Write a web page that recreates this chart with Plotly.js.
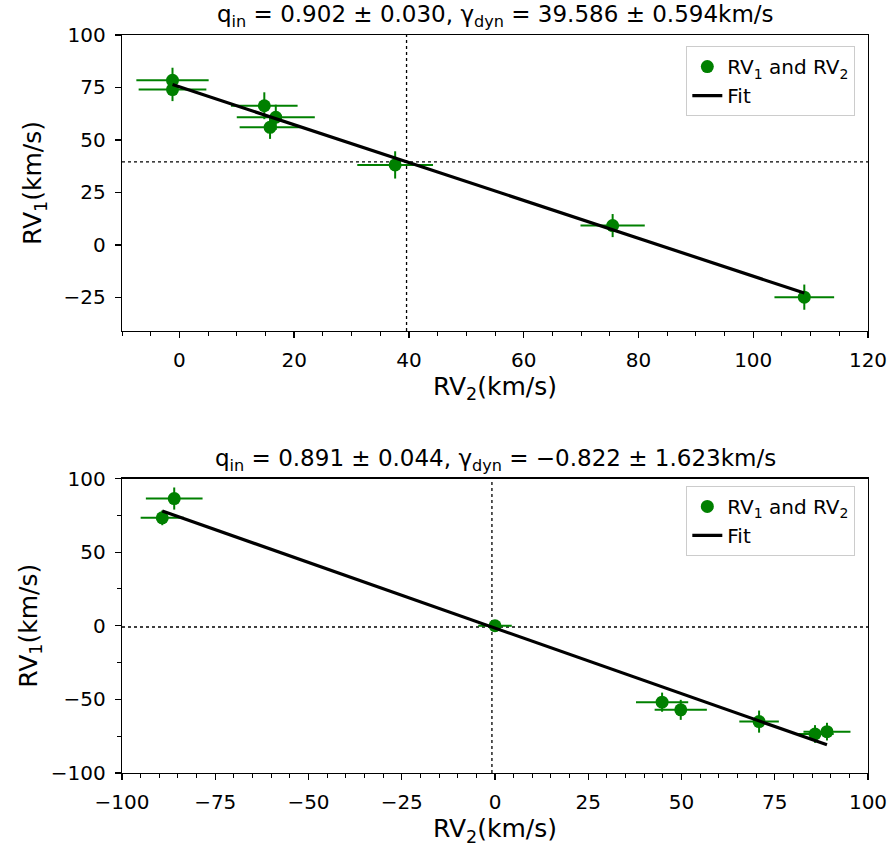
<!DOCTYPE html>
<html>
<head>
<meta charset="utf-8">
<script src="https://cdn.plot.ly/plotly-3.0.1.min.js"></script>
<style>
  html, body { margin: 0; padding: 0; background: #fff; }
  #chart { width: 888px; height: 850px; }
</style>
</head>
<body>
<div id="chart"></div>
<script>
// ---- Top panel data ----
const rv2Top = [-1.2, -1.2, 14.8, 16.8, 15.8, 37.6, 75.5, 108.9];
const rv1Top = [78.4, 74.0, 66.3, 60.8, 56.0, 38.1, 9.2, -24.9];
const rv2ErrTop = [6.3, 5.9, 5.8, 6.8, 5.3, 6.6, 5.6, 5.2];
const rv1ErrTop = [6.0, 5.5, 6.4, 6.0, 5.5, 6.5, 5.5, 6.0];
const qTop = 0.902, qErrTop = 0.030, gammaTop = 39.586, gammaErrTop = 0.594;

// ---- Bottom panel data ----
const rv2Bot = [-89.2, -86.0, 0.0, 44.8, 49.8, 70.8, 85.8, 89.0];
const rv1Bot = [73.3, 86.4, 0.0, -51.9, -57.1, -65.1, -73.5, -71.9];
const rv2ErrBot = [5.8, 7.6, 4.5, 7.0, 7.0, 5.3, 5.0, 6.3];
const rv1ErrBot = [5.0, 7.5, 3.0, 6.5, 6.8, 7.5, 6.0, 6.0];
const qBot = 0.891, qErrBot = 0.044, gammaBot = -0.822, gammaErrBot = 1.623;

const GREEN = '#008000';
const FONT = 'DejaVu Sans, sans-serif';

function fitLine(xs, q, gamma) {
  const x0 = Math.min(...xs), x1 = Math.max(...xs);
  return { x: [x0, x1], y: [gamma * (1 + q) - q * x0, gamma * (1 + q) - q * x1] };
}

function pointsTrace(x, y, ex, ey, xa, ya, leg) {
  return {
    type: 'scatter', mode: 'markers', x: x, y: y,
    xaxis: xa, yaxis: ya, legend: leg,
    name: 'RV<sub>1</sub> and RV<sub>2</sub>',
    marker: { color: GREEN, size: 13 },
    error_x: { type: 'data', array: ex, visible: true, color: GREEN, thickness: 2, width: 0 },
    error_y: { type: 'data', array: ey, visible: true, color: GREEN, thickness: 2, width: 0 }
  };
}

const fT = fitLine(rv2Top, qTop, gammaTop);
const fB = fitLine(rv2Bot, qBot, gammaBot);

const traces = [
  pointsTrace(rv2Top, rv1Top, rv2ErrTop, rv1ErrTop, 'x', 'y', 'legend'),
  { type: 'scatter', mode: 'lines', x: fT.x, y: fT.y, xaxis: 'x', yaxis: 'y', legend: 'legend',
    name: 'Fit', line: { color: '#000', width: 3.2 } },
  pointsTrace(rv2Bot, rv1Bot, rv2ErrBot, rv1ErrBot, 'x2', 'y2', 'legend2'),
  { type: 'scatter', mode: 'lines', x: fB.x, y: fB.y, xaxis: 'x2', yaxis: 'y2', legend: 'legend2',
    name: 'Fit', line: { color: '#000', width: 3.2 } }
];

const TICKSIZE = 20, TITLESIZE = 25;

function axis(extra, titleText, standoff) {
  return Object.assign({
    showline: true, linecolor: '#000', linewidth: 1.3, mirror: true,
    ticks: 'outside', ticklen: 6, tickwidth: 1.3, tickcolor: '#000',
    ticklabelstandoff: 5,
    showgrid: false, zeroline: false,
    tickfont: { family: FONT, size: TICKSIZE, color: '#000' },
    title: { text: titleText, standoff: standoff, font: { family: FONT, size: TITLESIZE, color: '#000' } }
  }, extra);
}

function dotted(xa, ya, val) {
  return [
    { type: 'line', xref: xa, yref: ya + ' domain', x0: val, x1: val, y0: 0, y1: 1,
      line: { color: '#000', width: 1.3, dash: 'dot' }, layer: 'below' },
    { type: 'line', xref: xa + ' domain', yref: ya, x0: 0, x1: 1, y0: val, y1: val,
      line: { color: '#000', width: 1.3, dash: 'dot' }, layer: 'below' }
  ];
}

function titleText(q, qe, g, ge) {
  const gs = g < 0 ? '\u2212' + Math.abs(g).toFixed(3) : g.toFixed(3);
  return 'q<sub>in</sub> = ' + q.toFixed(3) + ' \u00b1 ' + qe.toFixed(3) +
    ', \u03b3<sub>dyn</sub> = ' + gs + ' \u00b1 ' + ge.toFixed(3) + 'km/s';
}

const legendStyle = {
  bgcolor: 'rgba(255,255,255,0.8)', bordercolor: '#cccccc', borderwidth: 1,
  font: { family: FONT, size: 20, color: '#000' },
  xanchor: 'right', yanchor: 'top', tracegroupgap: 0
};

const minorX = { dtick: 5, ticks: 'outside', ticklen: 3.5, tickwidth: 1, tickcolor: '#000' };

const layout = {
  width: 888, height: 850,
  paper_bgcolor: '#fff', plot_bgcolor: '#fff',
  margin: { l: 122, r: 20, t: 35, b: 77 },
  font: { family: FONT, color: '#000' },
  showlegend: true,
  xaxis: axis({ domain: [0, 1], anchor: 'y', range: [-10, 120], dtick: 20, tick0: 0, minor: minorX },
    'RV<sub>2</sub>(km/s)', 4),
  yaxis: axis({ domain: [0.599, 1], anchor: 'x', range: [-41, 100], dtick: 25, tick0: 0 },
    'RV<sub>1</sub>(km/s)', 14),
  xaxis2: axis({ domain: [0, 1], anchor: 'y2', range: [-100, 100], dtick: 25, tick0: 0, minor: minorX },
    'RV<sub>2</sub>(km/s)', 4),
  yaxis2: axis({ domain: [0, 0.399], anchor: 'x2', range: [-100, 100], dtick: 50, tick0: 0,
    minor: { dtick: 25, ticks: 'outside', ticklen: 3.5, tickwidth: 1, tickcolor: '#000' } },
    'RV<sub>1</sub>(km/s)', 6),
  legend: Object.assign({ x: 0.983, y: 0.985 }, legendStyle),
  legend2: Object.assign({ x: 0.983, y: 0.399 - 0.01 }, legendStyle),
  shapes: [].concat(dotted('x', 'y', gammaTop), dotted('x2', 'y2', gammaBot)),
  annotations: [
    { xref: 'paper', yref: 'paper', x: 0.5, y: 1, yshift: 2, xanchor: 'center', yanchor: 'bottom',
      showarrow: false, text: titleText(qTop, qErrTop, gammaTop, gammaErrTop),
      font: { family: FONT, size: 23, color: '#000' } },
    { xref: 'paper', yref: 'paper', x: 0.5, y: 0.399, yshift: 2, xanchor: 'center', yanchor: 'bottom',
      showarrow: false, text: titleText(qBot, qErrBot, gammaBot, gammaErrBot),
      font: { family: FONT, size: 23, color: '#000' } }
  ]
};

Plotly.newPlot('chart', traces, layout, { displayModeBar: false, staticPlot: true });
</script>
</body>
</html>
